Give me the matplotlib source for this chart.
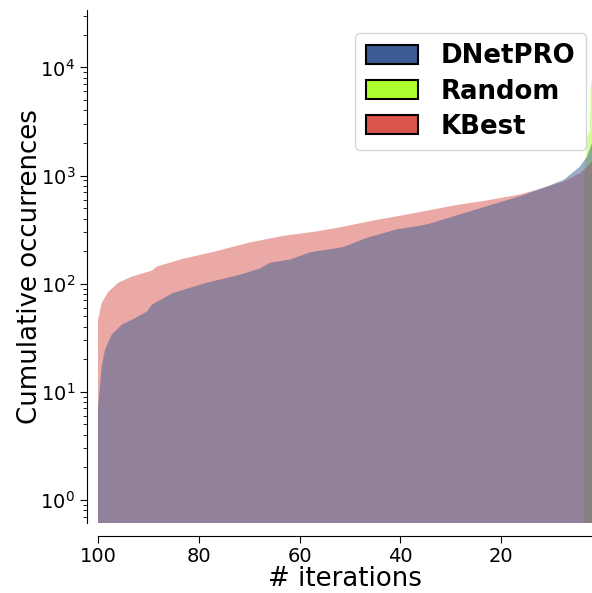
import numpy as np
import matplotlib.pyplot as plt
from matplotlib.patches import Patch

# --- data (x = # iterations, y = cumulative occurrences)
dnetpro_x = [100.0, 99.27, 98.6, 97.3, 95.3, 93.0, 90.3, 89.3, 85.1, 78.4, 71.8, 67.9,
             65.9, 61.9, 57.9, 51.3, 46.7, 40.7, 36.1, 34.1, 29.5, 22.9, 16.3, 11.6,
             7.6, 4.4, 3.0, 2.0, 1.0]
dnetpro_y = [7, 17, 24.5, 33.7, 41.6, 47, 55, 64, 82, 102, 121, 138,
             156, 167, 195, 218, 265, 318, 343, 360, 419, 520, 643, 770,
             913, 1210, 1500, 2000, 2500]

kbest_x = [100.0, 99.27, 97.96, 95.97, 93.3, 89.3, 88.3, 83.1, 77.2, 69.8, 63.2, 56.6,
           51.4, 45.4, 40.1, 35.0, 29.5, 22.9, 16.3, 11.6, 7.6, 4.4, 3.0, 2.0, 1.0]
kbest_y = [46, 66, 84, 102, 116, 132, 144, 170, 196, 241, 277, 304,
           336, 383, 425, 470, 527, 588, 667, 770, 880, 1050, 1200, 1350, 1500]

random_x = [3.6, 3.2, 2.9, 2.4, 2.3, 2.0, 1.0]
random_y = [900, 1500, 2300, 2600, 6500, 8000, 12000]

labels = ["DNetPRO", "Random", "KBest"]
colors = ["#3b5b92", "#adff2f", "#d9544d"]

fig = plt.figure(figsize=(5.92, 5.93), dpi=100)
ax = fig.add_axes([98 / 592, 70 / 593, 494 / 592, 513 / 593])

# draw order: Random, KBest, DNetPRO on top
ax.fill_between(random_x, random_y, 1e-3, color=colors[1], alpha=0.5, lw=0)
ax.fill_between(kbest_x, kbest_y, 1e-3, color=colors[2], alpha=0.5, lw=0)
ax.fill_between(dnetpro_x, dnetpro_y, 1e-3, color=colors[0], alpha=0.5, lw=0)

ax.set_yscale("log")
ax.set_ylim(0.61, 3.4e4)
ax.set_xlim(100, 2)
ax.set_xticks([100, 80, 60, 40, 20])

ax.spines["top"].set_visible(False)
ax.spines["right"].set_visible(False)
ax.spines["left"].set_position(("outward", 8))
ax.spines["bottom"].set_position(("outward", 9))

ax.tick_params(axis="both", which="major", labelsize=14, length=5)
ax.tick_params(axis="y", which="minor", length=3)

ax.set_xlabel("# iterations", fontsize=18.7, labelpad=0)
ax.set_ylabel("Cumulative occurrences", fontsize=18.7, labelpad=-2)

handles = [Patch(facecolor=c, edgecolor="black", linewidth=1.5) for c in colors]
ax.legend(handles, labels, loc="upper right", bbox_to_anchor=(0.988, 0.955),
          borderaxespad=0, prop={"size": 18.7, "weight": "bold"},
          handlelength=2.0, handleheight=0.72, handletextpad=0.9,
          labelspacing=0.35)

plt.savefig("out.png", dpi=100)
plt.close()
